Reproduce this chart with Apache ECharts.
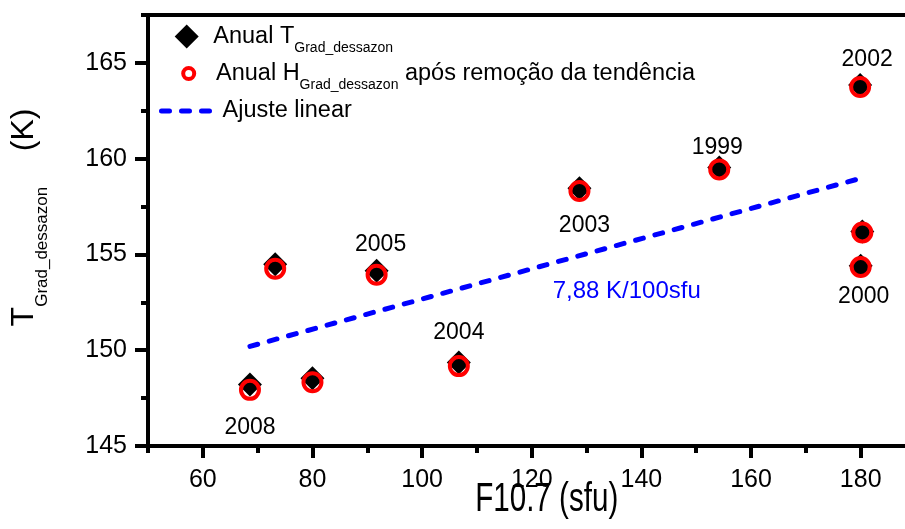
<!DOCTYPE html>
<html><head><meta charset="utf-8">
<script src="https://cdn.jsdelivr.net/npm/echarts@6/dist/echarts.min.js"></script>
<style>html,body{margin:0;padding:0;background:#fff}#c{width:905px;height:529px}</style>
</head><body><div id="c"></div>
<script>
// ---- data ----
const f107  = [68.6, 73.2, 80.0, 91.7, 106.7, 128.7, 154.2, 179.9, 180.3, 180.0];
const tGrad = [148.21, 154.49, 148.54, 154.15, 149.36, 158.45, 159.54, 163.84, 156.20, 154.41];
const hGrad = [147.93, 154.25, 148.33, 153.94, 149.17, 158.31, 159.44, 163.74, 156.15, 154.34];
const years = ['2008', '', '', '2005', '2004', '2003', '1999', '2002', '', '2000'];
const fitX = [68.6, 180.3];
const fitY = [150.2, 159.0];
const xMajorTicks = [60, 80, 100, 120, 140, 160, 180];
const xMinorTicks = [50, 70, 90, 110, 130, 150, 170, 190];
const yMajorTicks = [145, 150, 155, 160, 165];
const yMinorTicks = [147.5, 152.5, 157.5, 162.5, 167.5];
const xTitle = 'F10.7 (sfu)';
const slopeText = '7,88 K/100sfu';

// ---- style ----
const FONT = 'Liberation Sans';
const labelPlace = {
  '2008': ['bottom', 20, 0],
  '2005': ['top', 3, 4],
  '2004': ['top', 6, 0],
  '2003': ['bottom', 14, 5],
  '1999': ['top', -4, -2],
  '2002': ['top', 2, 7],
  '2000': ['bottom', 7, 3]
};

const tData = f107.map((x, i) => {
  const item = { value: [x, tGrad[i]] };
  const y = years[i];
  if (y) {
    const p = labelPlace[y];
    item.label = { show: true, formatter: y, position: p[0], distance: p[1], offset: [p[2], 0] };
  }
  return item;
});
const hData = f107.map((x, i) => [x, hGrad[i]]);
const fitData = fitX.map((x, i) => [x, fitY[i]]);

const black = '#000';
const axisLineStyle = { color: black, width: 4 };

const chart = echarts.init(document.getElementById('c'), null, { renderer: 'canvas' });
chart.setOption({
  animation: false,
  grid: { left: 148, top: 15, width: 767.5, height: 431, containLabel: false, outerBoundsMode: 'none' },
  xAxis: [
    {
      type: 'value', position: 'bottom', min: 50, max: 190,
      axisLine: { show: true, onZero: false, lineStyle: axisLineStyle },
      axisTick: { show: true, customValues: xMajorTicks, length: 12, lineStyle: axisLineStyle },
      axisLabel: { customValues: xMajorTicks, fontSize: 25, lineHeight: 25, color: black, fontFamily: FONT, margin: 22 },
      splitLine: { show: false }
    },
    {
      type: 'value', position: 'bottom', min: 50, max: 190,
      axisLine: { show: false },
      axisTick: { show: true, customValues: xMinorTicks, length: 7, lineStyle: axisLineStyle },
      axisLabel: { show: false }, splitLine: { show: false }
    },
    {
      type: 'value', position: 'top', min: 50, max: 190,
      axisLine: { show: true, onZero: false, lineStyle: axisLineStyle },
      axisTick: { show: false }, axisLabel: { show: false }, splitLine: { show: false }
    }
  ],
  yAxis: [
    {
      type: 'value', position: 'left', min: 145, max: 167.5,
      axisLine: { show: true, onZero: false, lineStyle: axisLineStyle },
      axisTick: { show: true, customValues: yMajorTicks, length: 13, lineStyle: axisLineStyle },
      axisLabel: { customValues: yMajorTicks, fontSize: 25, lineHeight: 25, color: black, fontFamily: FONT, margin: 21 },
      splitLine: { show: false },
      name: '{m|T}{s|Grad_dessazon}{m|    (K)}', nameLocation: 'middle', nameRotate: 90, nameGap: 97,
      nameTextStyle: {
        color: black, fontFamily: FONT, padding: [0, 0, 0, 26],
        rich: {
          m: { fontSize: 32, fontFamily: FONT, color: black },
          s: { fontSize: 17, fontFamily: FONT, color: black, padding: [37, 0, 0, 0] }
        }
      }
    },
    {
      type: 'value', position: 'left', min: 145, max: 167.5,
      axisLine: { show: false },
      axisTick: { show: true, customValues: yMinorTicks, length: 7, lineStyle: axisLineStyle },
      axisLabel: { show: false }, splitLine: { show: false }
    }
  ],
  legend: [
    {
      data: ['T'], left: 174.7, top: 24.5, padding: 0, itemWidth: 24, itemHeight: 24, selectedMode: false,
      formatter: '{g|}Anual T{s|Grad_dessazon}',
      textStyle: { fontSize: 23.5, color: black, fontFamily: FONT,
        rich: { g: { width: 9.6 }, s: { fontSize: 14, color: black, fontFamily: FONT, padding: [23, 0, 0, 0] } } }
    },
    {
      data: ['H'], left: 181.2, top: 61.5, padding: 0, itemWidth: 11, itemHeight: 11, selectedMode: false,
      itemStyle: { borderWidth: 4 },
      formatter: '{g|}Anual H{s|Grad_dessazon} após remoção da tendência',
      textStyle: { fontSize: 23.5, color: black, fontFamily: FONT,
        rich: { g: { width: 16.8 }, s: { fontSize: 14, color: black, fontFamily: FONT, padding: [23, 0, 0, 0] } } }
    },
    {
      data: ['fit'], left: 159, top: 99, padding: 0, itemWidth: 52, itemHeight: 14, selectedMode: false,
      itemStyle: { color: 'rgba(0,0,0,0)', borderWidth: 0 },
      lineStyle: { width: 5, type: [8, 12], cap: 'round', color: '#0000ff' },
      formatter: '{g|}Ajuste linear',
      textStyle: { fontSize: 23.5, color: black, fontFamily: FONT, rich: { g: { width: 4 } } }
    }
  ],
  graphic: [
    {
      type: 'text', x: 626.7, y: 291.7, silent: true,
      style: { text: slopeText, fontSize: 24, fontFamily: FONT, fill: '#0000ff', align: 'center', verticalAlign: 'middle' }
    },
    {
      type: 'text', x: 546.7, y: 500, scaleX: 0.74, silent: true,
      style: { text: xTitle, fontSize: 40, fontFamily: FONT, fill: black, align: 'center', verticalAlign: 'middle' }
    }
  ],
  series: [
    {
      name: 'fit', type: 'line', symbol: 'none', data: fitData, z: 1,
      lineStyle: { color: '#0000ff', width: 5, type: [8, 12], cap: 'round' },
      itemStyle: { color: '#0000ff' }
    },
    {
      name: 'T', type: 'scatter', symbol: 'diamond', symbolSize: 24, data: tData, z: 2,
      itemStyle: { color: black, opacity: 1 },
      label: { fontSize: 23, lineHeight: 23, color: black, fontFamily: FONT },
      emphasis: { disabled: true }
    },
    {
      name: 'H', type: 'scatter', symbol: 'circle', symbolSize: 18, data: hData, z: 3,
      itemStyle: { color: 'rgba(0,0,0,0)', borderColor: '#ff0000', borderWidth: 4, opacity: 1 },
      emphasis: { disabled: true }
    }
  ]
});
</script>
</body></html>
